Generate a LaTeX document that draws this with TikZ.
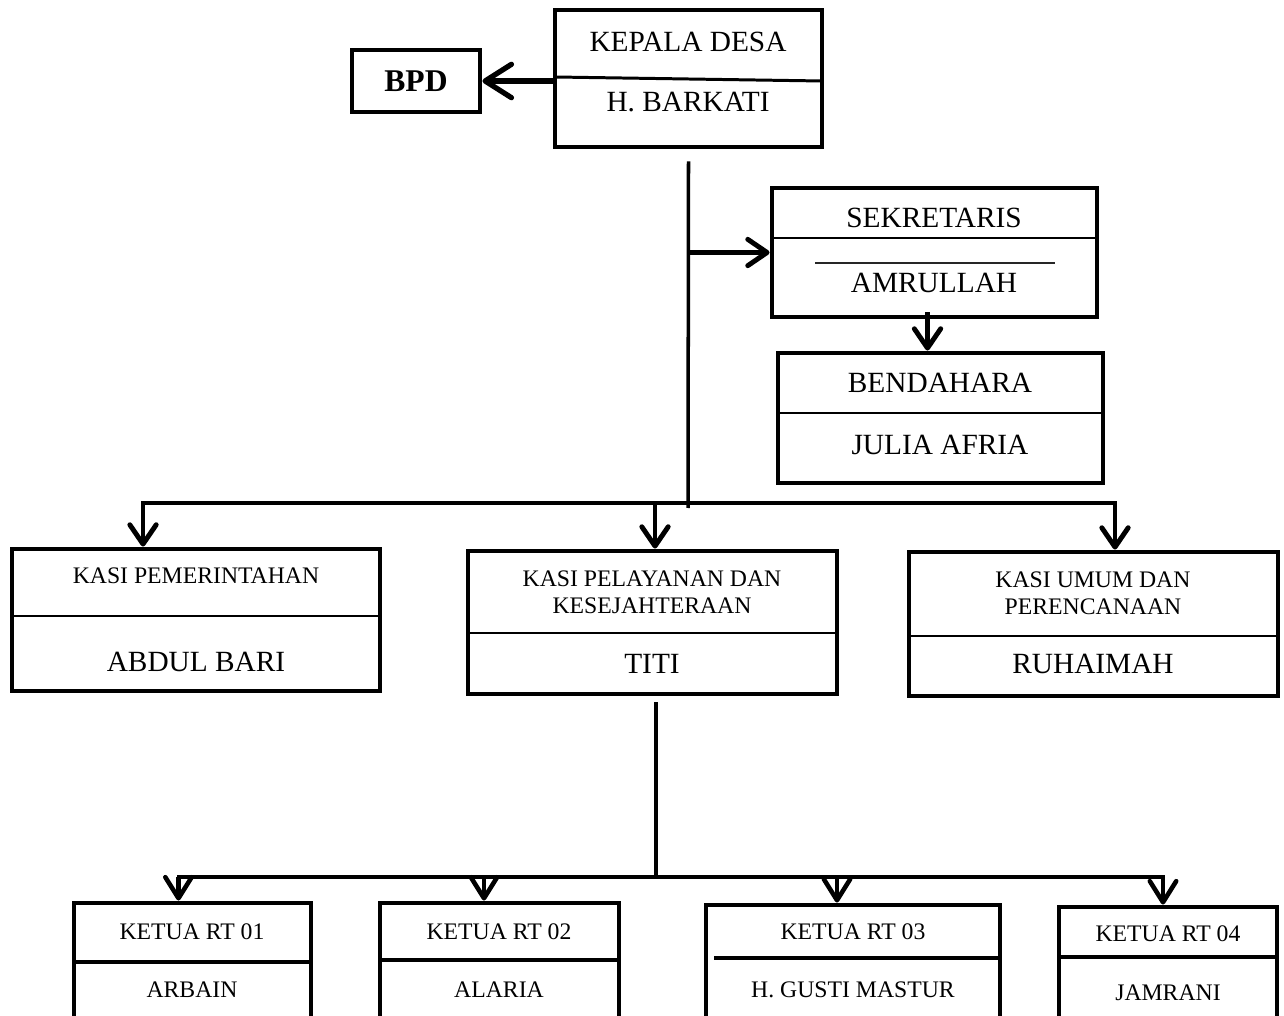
\documentclass[tikz,border=0pt]{standalone}
\usepackage{fontspec}
\setmainfont{Liberation Serif}
\usetikzlibrary{arrows.meta}
\tikzset{
  org/.style 2 args={draw, line width=2.8pt, inner sep=0pt,
    minimum width=#1*0.02cm, minimum height=#2*0.02cm},
  big/.style={font=\fontsize{16.7}{19}\selectfont},
  small/.style={font=\fontsize{13.5}{15.3}\selectfont, align=center},
  div/.style={line width=1.7pt},
  link/.style={line width=2.8pt, -{Straight Barb[length=11pt,width=15pt,round]}},
  rtlink/.style={line width=2.6pt, -{Straight Barb[length=12pt,width=15pt,round]}},
}
\begin{document}
\begin{tikzpicture}[x=0.02cm, y=-0.02cm]
  \useasboundingbox (0,0) rectangle (1284,1016);
  % boxes
  \node[org={267}{137}] (kades) at (688.5,78.5) {};
  \node[org={128}{62}, font=\bfseries\fontsize{18}{20}\selectfont] (bpd) at (416,81) {BPD};
  \node[org={325}{129}] (sekr) at (934.5,252.5) {};
  \node[org={325}{130}] (bend) at (940.5,418) {};
  \node[org={368}{142}] (pem) at (196,620) {};
  \node[org={369}{143}] (pel) at (652.5,622.5) {};
  \node[org={369}{144}] (umum) at (1093.5,624) {};
  \node[org={237}{137}] (rt1) at (192.5,971.5) {};
  \node[org={239}{137}] (rt2) at (499.5,971.5) {};
  \node[org={294}{135}] (rt3) at (853,972.5) {};
  \node[org={218}{133}] (rt4) at (1168,973.5) {};
  % dividers
  \draw[div] (555,77) -- (822,81);
  \draw[div] (772,238) -- (1097,238);
  \draw[div, black!85] (815,263) -- (1055,263);
  \draw[div] (778,413) -- (1103,413);
  \draw[div] (12,616) -- (380,616);
  \draw[div] (468,633) -- (837,633);
  \draw[div] (909,636) -- (1278,636);
  \foreach \xa/\xb/\yd in {74/311/962, 380/619/960, 714/1000/958, 1059/1277/957}
    \draw[line width=2.8pt] (\xa,\yd) -- (\xb,\yd);
  % texts
  \node[big] (kadesA) at (688,42) {KEPALA DESA};
  \node[big] (kadesB) at (688,102) {H. BARKATI};
  \node[big] (sekrA) at (934,218) {SEKRETARIS};
  \node[big] (sekrB) at (934,283) {AMRULLAH};
  \node[big] (bendA) at (940,383) {BENDAHARA};
  \node[big] (bendB) at (940,445) {JULIA AFRIA};
  \node[small] (pemA) at (196,576) {KASI PEMERINTAHAN};
  \node[big] (pemB) at (196,662) {ABDUL BARI};
  \node[small] (pelA) at (652,592) {KASI PELAYANAN DAN\\KESEJAHTERAAN};
  \node[big] (pelB) at (652,664) {TITI};
  \node[small] (umumA) at (1093,593) {KASI UMUM DAN\\PERENCANAAN};
  \node[big] (umumB) at (1093,664) {RUHAIMAH};
  \node[small] (rt1A) at (192,932) {KETUA RT 01};
  \node[small] (rt1B) at (192,990) {ARBAIN};
  \node[small] (rt2A) at (499,932) {KETUA RT 02};
  \node[small] (rt2B) at (499,990) {ALARIA};
  \node[small] (rt3A) at (853,932) {KETUA RT 03};
  \node[small] (rt3B) at (853,990) {H. GUSTI MASTUR};
  \node[small] (rt4A) at (1168,934) {KETUA RT 04};
  \node[small] (rt4B) at (1168,993) {JAMRANI};
  % connectors
  \coordinate (bar) at (688,503);
  \coordinate (rtbar) at (656,877);
  \draw[line width=3pt, -{Straight Barb[length=15pt,width=19pt,round]}] (kades.west |- bpd) -- (bpd.east);
  \draw[line width=2pt] ([yshift=-0.24cm]kades.south) -- ([yshift=-0.1cm]bar);
  \draw[link] (kades.south |- sekr.west) -- (sekr.west);
  \draw[link] ([xshift=-0.14cm,yshift=0.14cm]sekr.south) -- ([xshift=-0.14cm]sekr.south |- bend.north);
  \draw[line width=2.8pt, line cap=rect] ([xshift=-1.06cm]pem.north |- bar) -- ([xshift=0.43cm]umum.north |- bar);
  \foreach \b/\s in {pem/-1.06cm, pel/0.05cm, umum/0.43cm}
    \draw[link] ([xshift=\s]\b.north |- bar) -- ([xshift=\s]\b.north);
  \draw[line width=2.2pt] ([xshift=0.07cm,yshift=-0.12cm]pel.south) -- ([xshift=0.07cm]pel.south |- rtbar);
  \draw[line width=2.2pt, line cap=rect] ([xshift=-0.28cm]rt1.north |- rtbar) -- ([xshift=-0.1cm]rt4.north |- rtbar);
  \foreach \b/\s in {rt1/-0.28cm, rt2/-0.31cm, rt3/-0.32cm, rt4/-0.1cm}
    \draw[rtlink] ([xshift=\s]\b.north |- rtbar) -- ([xshift=\s]\b.north);
\end{tikzpicture}
\end{document}
